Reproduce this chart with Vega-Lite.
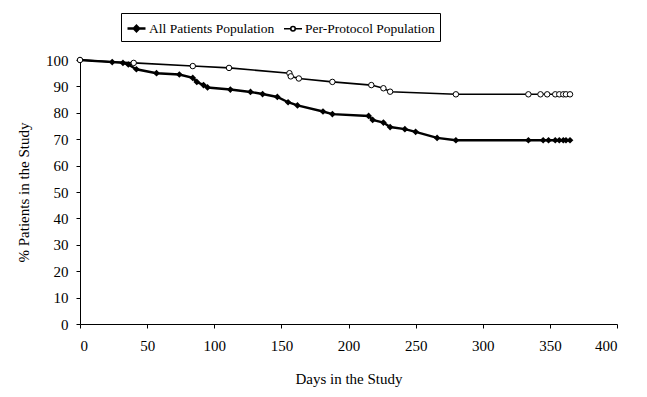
{
  "$schema": "https://vega.github.io/schema/vega-lite/v6.json",
  "width": 537,
  "height": 264,
  "autosize": {"type": "none"},
  "padding": {"left": 80, "top": 60, "right": 30, "bottom": 73},
  "background": "white",
  "config": {
    "view": {"stroke": null},
    "font": "Liberation Serif",
    "axis": {
      "domainColor": "black", "tickColor": "black", "labelColor": "black", "titleColor": "black",
      "labelFont": "Liberation Serif", "titleFont": "Liberation Serif", "labelFontSize": 15,
      "titleFontSize": 15, "titleFontWeight": "normal", "grid": false, "tickSize": 4
    }
  },
  "data": {
    "values": [
      {"series": "All Patients Population", "day": 0, "pct": 100},
      {"series": "All Patients Population", "day": 24, "pct": 99.2},
      {"series": "All Patients Population", "day": 32, "pct": 98.9},
      {"series": "All Patients Population", "day": 36, "pct": 98.3},
      {"series": "All Patients Population", "day": 42, "pct": 96.5},
      {"series": "All Patients Population", "day": 57, "pct": 95},
      {"series": "All Patients Population", "day": 74, "pct": 94.5},
      {"series": "All Patients Population", "day": 84, "pct": 93.2},
      {"series": "All Patients Population", "day": 87, "pct": 91.7},
      {"series": "All Patients Population", "day": 92, "pct": 90.5},
      {"series": "All Patients Population", "day": 95, "pct": 89.6},
      {"series": "All Patients Population", "day": 112, "pct": 88.8},
      {"series": "All Patients Population", "day": 127, "pct": 87.9},
      {"series": "All Patients Population", "day": 136, "pct": 87.1},
      {"series": "All Patients Population", "day": 147, "pct": 86},
      {"series": "All Patients Population", "day": 155, "pct": 84},
      {"series": "All Patients Population", "day": 162, "pct": 82.8},
      {"series": "All Patients Population", "day": 181, "pct": 80.5},
      {"series": "All Patients Population", "day": 188, "pct": 79.5},
      {"series": "All Patients Population", "day": 215, "pct": 78.8},
      {"series": "All Patients Population", "day": 218, "pct": 77.3},
      {"series": "All Patients Population", "day": 226, "pct": 76.3},
      {"series": "All Patients Population", "day": 231, "pct": 74.6},
      {"series": "All Patients Population", "day": 242, "pct": 73.8},
      {"series": "All Patients Population", "day": 250, "pct": 72.8},
      {"series": "All Patients Population", "day": 266, "pct": 70.5},
      {"series": "All Patients Population", "day": 280, "pct": 69.6},
      {"series": "All Patients Population", "day": 334, "pct": 69.6},
      {"series": "All Patients Population", "day": 345, "pct": 69.6},
      {"series": "All Patients Population", "day": 349, "pct": 69.6},
      {"series": "All Patients Population", "day": 354, "pct": 69.6},
      {"series": "All Patients Population", "day": 357, "pct": 69.6},
      {"series": "All Patients Population", "day": 360, "pct": 69.6},
      {"series": "All Patients Population", "day": 362, "pct": 69.6},
      {"series": "All Patients Population", "day": 365, "pct": 69.6},
      {"series": "Per-Protocol Population", "day": 0, "pct": 100},
      {"series": "Per-Protocol Population", "day": 40, "pct": 98.9},
      {"series": "Per-Protocol Population", "day": 84, "pct": 97.7},
      {"series": "Per-Protocol Population", "day": 111, "pct": 97},
      {"series": "Per-Protocol Population", "day": 156, "pct": 95},
      {"series": "Per-Protocol Population", "day": 157, "pct": 93.8},
      {"series": "Per-Protocol Population", "day": 163, "pct": 93},
      {"series": "Per-Protocol Population", "day": 188, "pct": 91.7},
      {"series": "Per-Protocol Population", "day": 217, "pct": 90.5},
      {"series": "Per-Protocol Population", "day": 226, "pct": 89.3},
      {"series": "Per-Protocol Population", "day": 231, "pct": 88},
      {"series": "Per-Protocol Population", "day": 280, "pct": 87},
      {"series": "Per-Protocol Population", "day": 334, "pct": 87},
      {"series": "Per-Protocol Population", "day": 343, "pct": 87},
      {"series": "Per-Protocol Population", "day": 348, "pct": 87},
      {"series": "Per-Protocol Population", "day": 354, "pct": 87},
      {"series": "Per-Protocol Population", "day": 357, "pct": 87},
      {"series": "Per-Protocol Population", "day": 360, "pct": 87},
      {"series": "Per-Protocol Population", "day": 362, "pct": 87},
      {"series": "Per-Protocol Population", "day": 365, "pct": 87}
    ]
  },
  "encoding": {
    "x": {
      "field": "day", "type": "quantitative",
      "scale": {"domain": [0, 400], "nice": false},
      "axis": {"values": [0, 50, 100, 150, 200, 250, 300, 350, 400], "title": "Days in the Study", "labelPadding": 10, "titlePadding": 18}
    },
    "y": {
      "field": "pct", "type": "quantitative",
      "scale": {"domain": [0, 100], "nice": false},
      "axis": {"values": [0, 10, 20, 30, 40, 50, 60, 70, 80, 90, 100], "title": "% Patients in the Study", "labelPadding": 8, "titlePadding": 14}
    }
  },
  "layer": [
    {
      "mark": {"type": "line"},
      "encoding": {
        "strokeWidth": {
          "field": "series", "type": "nominal",
          "scale": {"domain": ["All Patients Population", "Per-Protocol Population"], "range": [2.4, 1.6]},
          "legend": null
        },
        "color": {
          "field": "series", "type": "nominal",
          "scale": {"domain": ["All Patients Population", "Per-Protocol Population"], "range": ["black", "black"]},
          "legend": {
            "orient": "none", "legendX": 41, "legendY": -47, "direction": "horizontal", "title": null,
            "symbolType": "M-1,0H1", "symbolSize": 324, "symbolStrokeWidth": 1.5,
            "labelFont": "Liberation Serif", "labelFontSize": 13.5, "labelColor": "black",
            "strokeColor": "black", "fillColor": "white", "padding": 5, "columnPadding": 5, "labelOffset": 2,
            "encode": {
              "symbols": {
                "update": {
                  "fill": {"signal": "datum.value === 'All Patients Population' ? 'black' : 'white'"},
                  "stroke": {"value": "black"},
                  "strokeWidth": {"value": 1.5},
                  "shape": {"signal": "datum.value === 'All Patients Population' ? 'M-1,0H1M0,-0.3L0.3,0L0,0.3L-0.3,0Z' : 'M-1,0H-0.25M0.25,0H1M-0.25,0A0.25,0.25 0 1,0 0.25,0A0.25,0.25 0 1,0 -0.25,0'"}
                }
              }
            }
          }
        }
      }
    },
    {
      "transform": [{"filter": "datum.series === 'All Patients Population'"}],
      "mark": {"type": "point", "shape": "diamond", "filled": true, "color": "black", "size": 45, "opacity": 1}
    },
    {
      "transform": [{"filter": "datum.series === 'Per-Protocol Population'"}],
      "mark": {"type": "point", "shape": "circle", "filled": false, "fill": "white", "stroke": "black", "strokeWidth": 1, "size": 30, "opacity": 1}
    }
  ]
}
